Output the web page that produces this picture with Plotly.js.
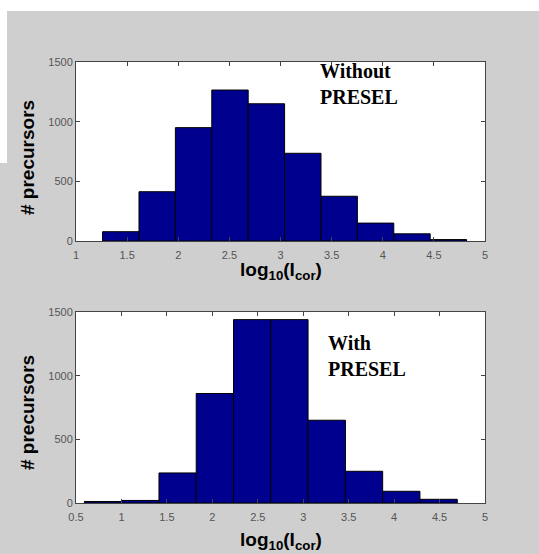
<!DOCTYPE html>
<html>
<head>
<meta charset="utf-8">
<script src="https://cdn.plot.ly/plotly-3.0.1.min.js"></script>
<style>
  html, body { margin: 0; padding: 0; background: #ffffff; }
  #chart { width: 539px; height: 554px; }
</style>
</head>
<body>
<div id="chart"></div>
<script>
// ---- Data ----
// Top panel: without PRESEL (10 histogram bins)
const topBinCenters = [1.438, 1.794, 2.150, 2.506, 2.862, 3.218, 3.574, 3.930, 4.286, 4.642];
const topCounts     = [78, 413, 950, 1265, 1150, 735, 375, 150, 60, 12];
const topBinWidth   = 0.356;

// Bottom panel: with PRESEL (10 histogram bins)
const botBinCenters = [0.797, 1.207, 1.618, 2.028, 2.438, 2.848, 3.259, 3.669, 4.079, 4.490];
const botCounts     = [12, 20, 236, 860, 1440, 1440, 650, 249, 92, 29];
const botBinWidth   = 0.4103;

const topXTicks = [1, 1.5, 2, 2.5, 3, 3.5, 4, 4.5, 5];
const topXTickText = ['1', '1.5', '2', '2.5', '3', '3.5', '4', '4.5', '5'];
const botXTicks = [0.5, 1, 1.5, 2, 2.5, 3, 3.5, 4, 4.5, 5];
const botXTickText = ['0.5', '1', '1.5', '2', '2.5', '3', '3.5', '4', '4.5', '5'];
const yTicks = [0, 500, 1000, 1500];
const yTickText = ['0', '500', '1000', '1500'];

const yTitle = '# precursors';
const xTitle = 'log<sub>10</sub>(I<sub>cor</sub>)';
const topLabel = 'Without<br>PRESEL';
const botLabel = 'With<br>PRESEL';

// ---- Styling ----
const W = 539, H = 554;
const barColor = '#00008f';
const px = v => v / W;
const py = v => 1 - v / H;

const traces = [
  {
    type: 'bar', x: topBinCenters, y: topCounts, width: topBinWidth,
    marker: { color: barColor, line: { color: '#000000', width: 1 } },
    xaxis: 'x', yaxis: 'y', hoverinfo: 'x+y'
  },
  {
    type: 'bar', x: botBinCenters, y: botCounts, width: botBinWidth,
    marker: { color: barColor, line: { color: '#000000', width: 1 } },
    xaxis: 'x2', yaxis: 'y2', hoverinfo: 'x+y'
  }
];

const tickFont = { family: 'Liberation Sans, Arial, sans-serif', size: 11, color: '#555555' };
const axisCommon = {
  showline: true, mirror: 'ticks', linecolor: '#444444', linewidth: 1,
  ticks: 'inside', ticklen: 4, tickcolor: '#444444', tickwidth: 1,
  showgrid: false, zeroline: false, tickfont: tickFont, fixedrange: true,
  automargin: false
};

const titleFont = { family: 'Liberation Sans, Arial, sans-serif', size: 19, color: '#000000' };
const labelFont = { family: 'Liberation Serif, Times New Roman, serif', size: 20, color: '#000000' };

const layout = {
  width: W, height: H,
  margin: { l: 0, r: 0, t: 0, b: 0 },
  paper_bgcolor: '#cfcfcf',
  plot_bgcolor: '#ffffff',
  showlegend: false,
  bargap: 0,
  xaxis: Object.assign({}, axisCommon, {
    domain: [px(76), px(485)], anchor: 'y', range: [1, 5],
    tickvals: topXTicks, ticktext: topXTickText, ticklabelstandoff: 4
  }),
  yaxis: Object.assign({}, axisCommon, {
    domain: [py(241), py(62)], anchor: 'x', range: [0, 1500],
    tickvals: yTicks, ticktext: yTickText, ticklabelstandoff: 0
  }),
  xaxis2: Object.assign({}, axisCommon, {
    domain: [px(76), px(485)], anchor: 'y2', range: [0.5, 5],
    tickvals: botXTicks, ticktext: botXTickText, ticklabelstandoff: 4
  }),
  yaxis2: Object.assign({}, axisCommon, {
    domain: [py(503), py(312)], anchor: 'x2', range: [0, 1500],
    tickvals: yTicks, ticktext: yTickText, ticklabelstandoff: 0
  }),
  shapes: [
    { type: 'rect', xref: 'paper', yref: 'paper', x0: 0, x1: 1, y0: py(11), y1: 1,
      fillcolor: '#ffffff', line: { width: 0 }, layer: 'below' },
    { type: 'rect', xref: 'paper', yref: 'paper', x0: 0, x1: px(7), y0: py(163), y1: 1,
      fillcolor: '#ffffff', line: { width: 0 }, layer: 'below' }
  ],
  annotations: [
    { text: '<b>' + xTitle + '</b>', xref: 'paper', yref: 'paper', x: px(281), y: py(271),
      xanchor: 'center', yanchor: 'middle', showarrow: false, font: titleFont },
    { text: '<b>' + xTitle + '</b>', xref: 'paper', yref: 'paper', x: px(281), y: py(541),
      xanchor: 'center', yanchor: 'middle', showarrow: false, font: titleFont },
    { text: '<b>' + yTitle + '</b>', xref: 'paper', yref: 'paper', x: px(27), y: py(158),
      xanchor: 'center', yanchor: 'middle', textangle: -90, showarrow: false, font: titleFont },
    { text: '<b>' + yTitle + '</b>', xref: 'paper', yref: 'paper', x: px(27), y: py(413),
      xanchor: 'center', yanchor: 'middle', textangle: -90, showarrow: false, font: titleFont },
    { text: '<b>' + topLabel + '</b>', xref: 'paper', yref: 'paper', x: px(318), y: py(58),
      xanchor: 'left', yanchor: 'top', align: 'left', showarrow: false, font: labelFont },
    { text: '<b>' + botLabel + '</b>', xref: 'paper', yref: 'paper', x: px(326), y: py(330),
      xanchor: 'left', yanchor: 'top', align: 'left', showarrow: false, font: labelFont }
  ]
};

Plotly.newPlot('chart', traces, layout, { displayModeBar: false, staticPlot: true });
</script>
</body>
</html>
